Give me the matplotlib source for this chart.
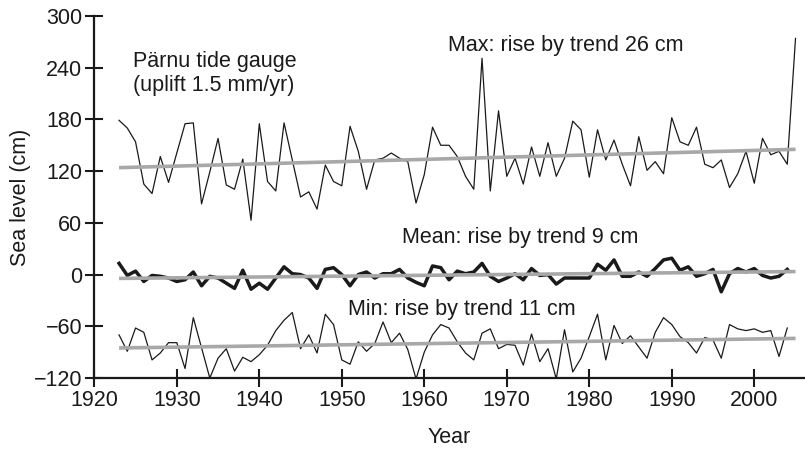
import numpy as np
import matplotlib.pyplot as plt

plt.rcParams['font.family'] = ['Liberation Sans', 'DejaVu Sans']
plt.rcParams['font.size'] = 15.5

# annual sea level statistics, Pärnu (cm)
years = list(range(1923, 2006))

max_level = [179, 170, 154, 105, 94, 137, 107, 141, 175, 176,
             82, 119, 158, 104, 99, 134, 63, 175, 108, 97,
             176, 133, 90, 96, 76, 127, 108, 103, 172, 143,
             99, 133, 135, 141, 135, 131, 83, 116, 171, 150,
             150, 137, 114, 99, 251, 97, 190, 114, 135, 105,
             148, 114, 153, 114, 135, 178, 168, 113, 168, 133,
             156, 128, 103, 160, 121, 131, 117, 182, 154, 150,
             171, 128, 124, 133, 101, 117, 143, 106, 158, 139,
             143, 128, 274]

mean_level = [13, -1, 4, -8, -1, -2, -4, -8, -6, 3,
              -13, -2, -4, -10, -16, 5, -17, -10, -17, -4,
              9, 1, 0, -4, -16, 6, 8, 0, -13, 0,
              3, -4, 1, 1, 6, -4, -9, -13, 10, 8,
              -6, 4, 1, 3, 13, -2, -8, -4, 1, -6,
              7, -1, 0, -11, -4, -4, -4, -4, 12, 5,
              17, -2, -2, 3, -2, 7, 17, 19, 5, 9,
              -2, 1, 6, -20, 1, 7, 3, 7, -1, -4,
              -2, 6]

min_level = [-70, -89, -62, -67, -99, -91, -79, -79, -109, -50,
             -85, -120, -97, -86, -112, -96, -101, -93, -82, -65,
             -53, -44, -86, -70, -91, -46, -58, -99, -104, -78,
             -89, -80, -55, -79, -68, -87, -121, -90, -70, -58,
             -62, -78, -91, -99, -68, -63, -86, -81, -82, -105,
             -69, -101, -86, -121, -64, -113, -97, -72, -46, -99,
             -59, -80, -71, -84, -97, -67, -50, -58, -72, -79,
             -91, -73, -76, -97, -58, -63, -65, -63, -67, -65,
             -95, -62]

series = [
    (max_level, 0.9, 'Max: rise by trend 26 cm', (448, 45)),
    (mean_level, 2.5, 'Mean: rise by trend 9 cm', (402, 238)),
    (min_level, 0.9, 'Min: rise by trend 11 cm', (348, 310)),
]

W, H = 805, 449
fig = plt.figure(figsize=(W / 100, H / 100), dpi=100)
ax = fig.add_axes([94.3 / W, 71 / H, 1 - 94.3 / W, 362 / H])

for values, lw, label, (tx, ty) in series:
    yrs = years[:len(values)]
    ax.plot(yrs, values, color='#1a1a1a', lw=lw, zorder=2)
    # linear trend over the record
    k, b = np.polyfit(yrs, values, 1)
    ends = np.array([yrs[0], years[-1]])
    ax.plot(ends, k * ends + b, color='#a8a8a8', lw=2.6, zorder=3,
            solid_capstyle='butt')
    fig.text(tx / W, 1 - ty / H, label, ha='left', va='center',
             color='#1a1a1a')

fig.text(133 / W, 1 - 62 / H, 'Pärnu tide gauge', va='center', color='#1a1a1a')
fig.text(133 / W, 1 - 86 / H, '(uplift 1.5 mm/yr)', va='center', color='#1a1a1a')

ax.set_xlim(1920, 2006.15)
ax.set_ylim(-120, 300)
ax.set_xticks(range(1920, 2001, 10))
ax.set_yticks(range(-120, 301, 60))
for s in ['top', 'right']:
    ax.spines[s].set_visible(False)
for s in ['left', 'bottom']:
    ax.spines[s].set_linewidth(1.6)
    ax.spines[s].set_color('#1a1a1a')
ax.tick_params(direction='inout', length=13, width=1.5, colors='#1a1a1a',
               pad=2)
ax.set_xlabel('Year', color='#1a1a1a', labelpad=12)
ax.set_ylabel('Sea level (cm)', color='#1a1a1a', labelpad=2)

fig.savefig('out.png', dpi=100)
